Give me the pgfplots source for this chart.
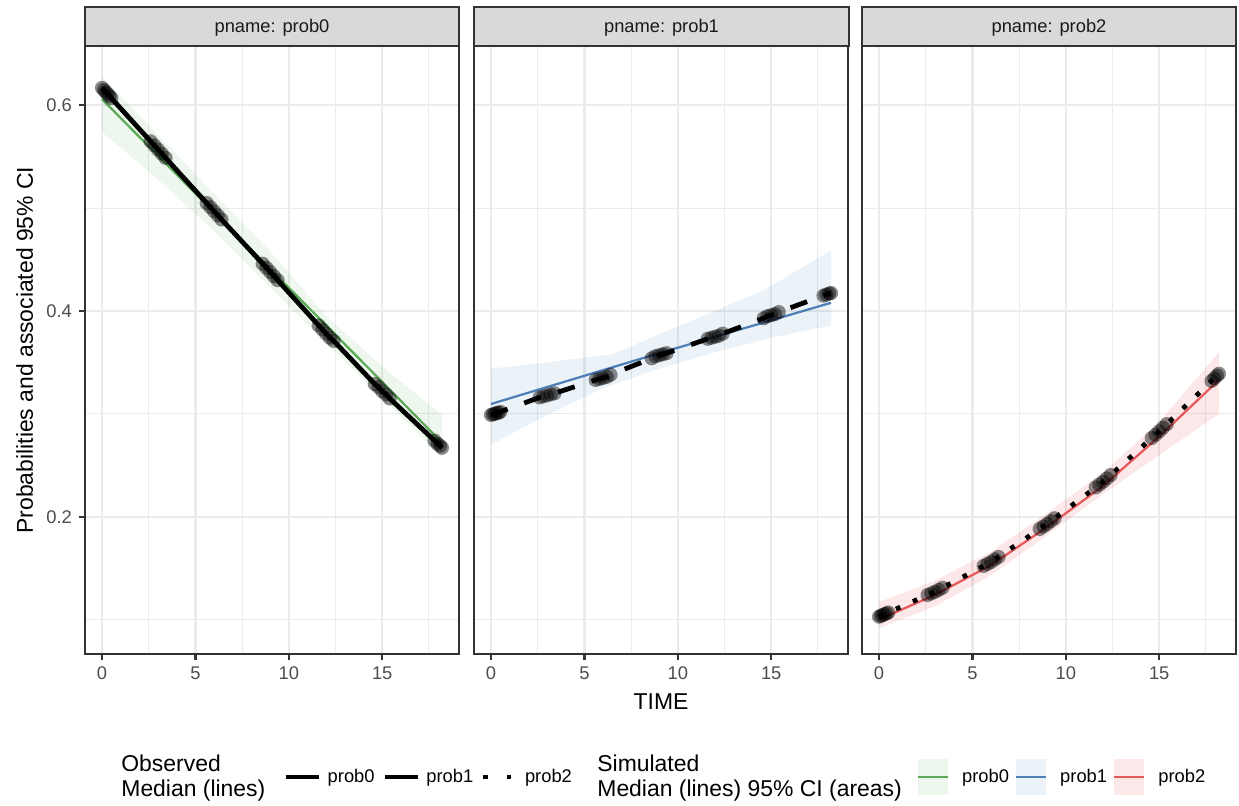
\documentclass[border=0pt]{standalone}
\usepackage{pgfplots}
\pgfplotsset{compat=1.18}
\usepackage{fontspec}
\setmainfont{Liberation Sans}

\definecolor{gridc}{HTML}{EBEBEB}
\definecolor{border}{HTML}{333333}
\definecolor{tickc}{HTML}{4D4D4D}
\definecolor{stripc}{HTML}{D9D9D9}
\definecolor{stript}{HTML}{1A1A1A}
\definecolor{cgreen}{HTML}{4DAF4A}
\definecolor{cblue}{HTML}{377EB8}
\definecolor{cred}{HTML}{E41A1C}
\definecolor{lgreen}{HTML}{5BA857}
\definecolor{lblue}{HTML}{4F7FB7}
\definecolor{lred}{HTML}{E8595B}

\pgfplotsset{
  panel/.style={
    scale only axis, width=179.52pt, height=291.84pt,
    xmin=-0.91, xmax=19.11, ymin=0.0665, ymax=0.6577,
    xtick={0,5,10,15}, ytick={0.2,0.4,0.6},
    minor xtick={2.5,7.5,12.5,17.5}, minor ytick={0.1,0.3,0.5},
    grid=both,
    major grid style={draw=gridc, line width=1.07pt},
    minor grid style={draw=gridc, line width=0.53pt},
    axis line style={draw=border, line width=1.07pt},
    tick align=outside, major tick length=2.75pt, minor tick length=0pt,
    tick style={draw=border, line width=1.07pt},
    xtick pos=left, ytick pos=left,
    ticklabel style={font=\fontsize{8.8}{10}\selectfont, text=tickc},
    /pgf/number format/assume math mode=true,
    clip=true,
  },
  obspts/.style={only marks, mark=*, mark size=3.4pt, color=black,
    mark options={fill=black, draw=black, draw opacity=0, fill opacity=0.45}, forget plot},
}

\begin{document}
\begin{tikzpicture}
\path[use as bounding box] (0,0) rectangle (594.72pt,386.4pt);

% ---------------- panel prob0
\begin{axis}[panel, at={(40.8pt,72.48pt)}, anchor=south west,
  legend columns=3, legend cell align=left,
  legend style={at={(0.5307,-0.2023)}, anchor=west, draw=none, fill=none, inner sep=0pt, outer sep=0pt,
    font=\fontsize{8.8}{10}\selectfont, nodes={inner sep=0pt},
    /tikz/every odd column/.append style={column sep=3.1pt},
    /tikz/every even column/.append style={column sep=3.6pt}}]
\addplot[fill=cgreen, fill opacity=0.1, draw=none, forget plot] coordinates {
 (0,0.628) (3,0.571) (6,0.514) (9,0.458) (12,0.395) (15,0.346) (18.2,0.299)
 (18.2,0.257) (15,0.316) (12,0.369) (9,0.423) (6,0.478) (3,0.528) (0,0.574)} -- cycle;
\addplot[lgreen, line width=1.07pt, forget plot] coordinates {
 (0,0.606) (3,0.551) (6,0.496) (9,0.441) (12,0.386) (15,0.331) (18.2,0.272)};
\addplot[black, line width=2.3pt, line join=round, forget plot] table {
t y
0 0.617
0.1 0.615
0.2 0.613
0.3 0.611
0.4 0.609
0.5 0.607
2.6 0.565
2.8 0.561
3.0 0.557
3.2 0.553
3.4 0.549
5.6 0.505
5.8 0.501
6.0 0.497
6.2 0.493
6.4 0.489
8.6 0.446
8.8 0.442
9.0 0.438
9.2 0.434
9.4 0.430
11.6 0.386
11.8 0.382
12.0 0.378
12.2 0.374
12.4 0.371
14.6 0.329
14.8 0.326
15.0 0.322
15.2 0.319
15.4 0.315
17.8 0.274
17.95 0.271
18.1 0.269
18.2 0.267
};
\addplot[obspts] table {
t y
0 0.617
0.1 0.615
0.2 0.613
0.3 0.611
0.4 0.609
0.5 0.607
2.6 0.565
2.8 0.561
3.0 0.557
3.2 0.553
3.4 0.549
5.6 0.505
5.8 0.501
6.0 0.497
6.2 0.493
6.4 0.489
8.6 0.446
8.8 0.442
9.0 0.438
9.2 0.434
9.4 0.430
11.6 0.386
11.8 0.382
12.0 0.378
12.2 0.374
12.4 0.371
14.6 0.329
14.8 0.326
15.0 0.322
15.2 0.319
15.4 0.315
17.8 0.274
17.95 0.271
18.1 0.269
18.2 0.267
};
\addlegendimage{legend image code/.code={\draw[black, line width=2.3pt] (0pt,0pt) -- (15.84pt,0pt);}}
\addlegendentry{prob0}
\addlegendimage{legend image code/.code={\draw[black, line width=2.3pt, dash pattern=on 15.84pt off 20pt] (0pt,0pt) -- (15.84pt,0pt);}}
\addlegendentry{prob1}
\addlegendimage{legend image code/.code={\draw[black, line width=2.3pt, dash pattern=on 2.3pt off 9pt] (0pt,0pt) -- (15.84pt,0pt);}}
\addlegendentry{prob2}
\end{axis}

% ---------------- panel prob1
\begin{axis}[panel, at={(227.52pt,72.48pt)}, anchor=south west,
  yticklabels={{},{},{}}, ytick style={draw=none}]
\addplot[fill=cblue, fill opacity=0.1, draw=none, forget plot] coordinates {
 (0,0.344) (3,0.350) (6.5,0.358) (10,0.385) (14.6,0.420) (18.2,0.459)
 (18.2,0.386) (15,0.374) (12,0.360) (9,0.344) (6,0.325) (3,0.299) (0,0.270)} -- cycle;
\addplot[lblue, line width=1.07pt, forget plot] coordinates {
 (0,0.3096) (9,0.359) (18.2,0.408)};
\addplot[black, line width=2.3pt, dash pattern=on 8.5pt off 8.5pt, forget plot] table {
t y
0 0.299
0.1 0.2995
0.2 0.300
0.3 0.301
0.4 0.301
0.5 0.302
2.6 0.316
2.8 0.317
3.0 0.318
3.2 0.319
3.4 0.320
5.6 0.333
5.8 0.334
6.0 0.335
6.2 0.336
6.4 0.338
8.6 0.354
8.8 0.356
9.0 0.357
9.2 0.358
9.4 0.359
11.6 0.373
11.8 0.374
12.0 0.375
12.2 0.376
12.4 0.378
14.6 0.393
14.8 0.395
15.0 0.396
15.2 0.397
15.4 0.399
17.8 0.415
17.95 0.416
18.1 0.417
18.2 0.4175
};
\addplot[obspts] table {
t y
0 0.299
0.1 0.2995
0.2 0.300
0.3 0.301
0.4 0.301
0.5 0.302
2.6 0.316
2.8 0.317
3.0 0.318
3.2 0.319
3.4 0.320
5.6 0.333
5.8 0.334
6.0 0.335
6.2 0.336
6.4 0.338
8.6 0.354
8.8 0.356
9.0 0.357
9.2 0.358
9.4 0.359
11.6 0.373
11.8 0.374
12.0 0.375
12.2 0.376
12.4 0.378
14.6 0.393
14.8 0.395
15.0 0.396
15.2 0.397
15.4 0.399
17.8 0.415
17.95 0.416
18.1 0.417
18.2 0.4175
};
\end{axis}

% ---------------- panel prob2
\begin{axis}[panel, at={(413.76pt,72.48pt)}, anchor=south west,
  yticklabels={{},{},{}}, ytick style={draw=none},
  legend columns=3, legend cell align=left,
  legend style={at={(0.1471,-0.2023)}, anchor=west, draw=none, fill=none, inner sep=0pt, outer sep=0pt,
    font=\fontsize{8.8}{10}\selectfont, nodes={inner sep=0pt},
    /tikz/every odd column/.append style={column sep=6.2pt},
    /tikz/every even column/.append style={column sep=2.9pt}}]
\addplot[fill=cred, fill opacity=0.1, draw=none, forget plot] coordinates {
 (0,0.117) (3,0.138) (6,0.166) (9,0.2036) (12,0.243) (15,0.292) (18.2,0.360)
 (18.2,0.300) (15,0.260) (12,0.222) (9,0.182) (6,0.143) (3,0.113) (0,0.0915)} -- cycle;
\addplot[lred, line width=1.07pt, forget plot] coordinates {
 (0,0.100) (3,0.124) (6,0.153) (9,0.190) (12,0.230) (15,0.278) (18.2,0.333)};
\addplot[black, line width=2.3pt, dash pattern=on 2.3pt off 6.6pt, forget plot] table {
t y
0 0.1028
0.1 0.1036
0.2 0.1044
0.3 0.1052
0.4 0.1060
0.5 0.1069
2.6 0.1239
2.8 0.1254
3.0 0.1270
3.2 0.1289
3.4 0.1309
5.6 0.1521
5.8 0.1541
6.0 0.1560
6.2 0.1585
6.4 0.1609
8.6 0.1881
8.8 0.1905
9.0 0.1930
9.2 0.1957
9.4 0.1985
11.6 0.2285
11.8 0.2313
12.0 0.2340
12.2 0.2373
12.4 0.2405
14.6 0.2765
14.8 0.2797
15.0 0.2830
15.2 0.2865
15.4 0.2900
17.8 0.3320
17.95 0.3346
18.1 0.3372
18.2 0.3390
};
\addplot[obspts] table {
t y
0 0.1028
0.1 0.1036
0.2 0.1044
0.3 0.1052
0.4 0.1060
0.5 0.1069
2.6 0.1239
2.8 0.1254
3.0 0.1270
3.2 0.1289
3.4 0.1309
5.6 0.1521
5.8 0.1541
6.0 0.1560
6.2 0.1585
6.4 0.1609
8.6 0.1881
8.8 0.1905
9.0 0.1930
9.2 0.1957
9.4 0.1985
11.6 0.2285
11.8 0.2313
12.0 0.2340
12.2 0.2373
12.4 0.2405
14.6 0.2765
14.8 0.2797
15.0 0.2830
15.2 0.2865
15.4 0.2900
17.8 0.3320
17.95 0.3346
18.1 0.3372
18.2 0.3390
};
\addlegendimage{legend image code/.code={\path[fill=cgreen, fill opacity=0.1, draw=none] (0pt,-8.64pt) rectangle (14.4pt,8.64pt); \draw[lgreen, line width=1.07pt] (0pt,0pt) -- (14.4pt,0pt);}}
\addlegendentry{prob0}
\addlegendimage{legend image code/.code={\path[fill=cblue, fill opacity=0.1, draw=none] (0pt,-8.64pt) rectangle (14.4pt,8.64pt); \draw[lblue, line width=1.07pt] (0pt,0pt) -- (14.4pt,0pt);}}
\addlegendentry{prob1}
\addlegendimage{legend image code/.code={\path[fill=cred, fill opacity=0.1, draw=none] (0pt,-8.64pt) rectangle (14.4pt,8.64pt); \draw[lred, line width=1.07pt] (0pt,0pt) -- (14.4pt,0pt);}}
\addlegendentry{prob2}
\end{axis}

% ---------------- strips and texts (pixel coordinates)
\begin{scope}[x=0.48pt, y=-0.48pt, shift={(0pt,386.4pt)}]
\foreach \xa/\xb/\lab in {85/459/prob0, 474/849/prob1, 862/1236/prob2} {
  \draw[fill=stripc, draw=border, line width=1.07pt] (\xa,7) rectangle (\xb,46);
  \node[anchor=base, inner sep=0pt, text=stript, font=\fontsize{8.8}{10}\selectfont] at ({(\xa+\xb)/2},33) {pname: \lab};
}
\node[anchor=base, inner sep=0pt, rotate=90, font=\fontsize{11}{13}\selectfont] at (33,350) {Probabilities and associated 95\% CI};
\node[anchor=base, inner sep=0pt, font=\fontsize{11}{13}\selectfont] at (661,710) {TIME};
\node[anchor=base west, inner sep=0pt, font=\fontsize{11}{13}\selectfont] at (121,772) {Observed};
\node[anchor=base west, inner sep=0pt, font=\fontsize{11}{13}\selectfont] at (121,797) {Median (lines)};
\node[anchor=base west, inner sep=0pt, font=\fontsize{11}{13}\selectfont] at (597,772) {Simulated};
\node[anchor=base west, inner sep=0pt, font=\fontsize{11}{13}\selectfont] at (597,797) {Median (lines) 95\% CI (areas)};
\end{scope}
\end{tikzpicture}
\end{document}
